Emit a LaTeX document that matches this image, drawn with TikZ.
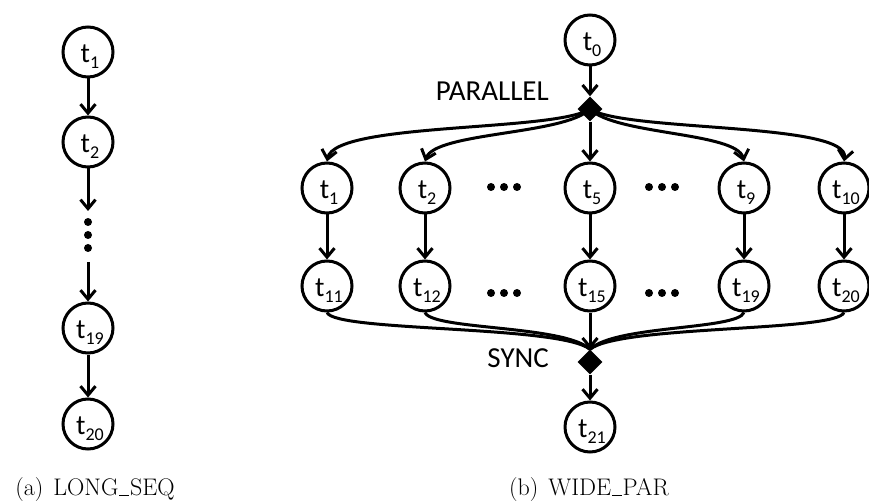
\documentclass[tikz,border=0pt]{standalone}
\usepackage{fontspec}
\newfontfamily\labfont{Carlito}
\usetikzlibrary{arrows.meta,shapes.geometric}
\newcommand\tk[1]{\kern4pt t\raisebox{-6pt}{\fontsize{18}{18}\selectfont #1}}
\newcommand\lowbar{\leavevmode\kern.04em\vbox{\hrule width .4em height 1.1pt}\kern.04em}
\begin{document}
\begin{tikzpicture}[x=1pt,y=-1pt,
  task/.style={circle,draw,line width=3pt,minimum size=50pt,inner sep=0pt,
    text height=23pt,text depth=2pt,font=\labfont\fontsize{28}{28}\selectfont},
  gate/.style={diamond,fill=black,minimum width=25pt,minimum height=25pt,inner sep=0pt},
  arr/.style={line width=3pt,-{Straight Barb[length=9pt,width=15pt]}},
  link/.style={line width=3pt},
  tag/.style={font=\labfont\fontsize{29}{29}\selectfont,inner sep=0pt},
  captext/.style={font=\fontsize{24}{24}\selectfont,inner sep=0pt}]
\useasboundingbox (0,0) rectangle (869,502);

% (a) LONG_SEQ
\node[task] (a1)  at (88,52)  {\tk{1}};
\node[task] (a2)  at (88,142) {\tk{2}};
\node[task] (a19) at (88,328) {\tk{19}};
\node[task] (a20) at (88,424) {\tk{20}};
\coordinate (ga) at (88,211);
\coordinate (gb) at (88,262);
\draw[arr] (a1) -- (a2);
\draw[arr] (a2) -- (ga);
\draw[arr] (gb) -- (a19);
\draw[arr] (a19) -- (a20);
\foreach \yy in {222,235,248} \fill (88,\yy) circle (4pt);
\node[captext] (capa) at (95,490) {(a)\hspace{10pt}LONG\lowbar SEQ};

% (b) WIDE_PAR
\node[task] (b0) at (590,40) {\tk{0}};
\node[gate] (par) at (590,109) {};
\node[tag,anchor=east] (partxt) at (549,91) {PARALLEL};

\node[task] (b1)  at (327,188) {\tk{1}};
\node[task] (b2)  at (425,188) {\tk{2}};
\node[task] (b5)  at (590,188) {\tk{5}};
\node[task] (b9)  at (744,188) {\tk{9}};
\node[task] (b10) at (844,188) {\tk{10}};

\node[task] (b11) at (327,286) {\tk{11}};
\node[task] (b12) at (425,286) {\tk{12}};
\node[task] (b15) at (590,286) {\tk{15}};
\node[task] (b19) at (744,286) {\tk{19}};
\node[task] (b20) at (844,286) {\tk{20}};

\foreach \xx in {491,504,517,649,662,675} {
  \fill (\xx,187) circle (4pt);
  \fill (\xx,293) circle (4pt);
}

\node[gate] (sync) at (590,362) {};
\node[tag,anchor=east] (synctxt) at (549,358) {SYNC};
\node[task] (b21) at (590,427) {\tk{21}};

\draw[arr] (b0) -- (par);
\draw[arr] (par.center) .. controls (555,132) and (335,122) .. (b1.north);
\draw[arr] (par.center) .. controls (565,135) and (435,132) .. (b2.north);
\draw[arr] (par) -- (b5);
\draw[arr] (par.center) .. controls (615,135) and (737,132) .. (b9.north);
\draw[arr] (par.center) .. controls (625,132) and (850,122) .. (b10.north);

\draw[arr] (b1) -- (b11);
\draw[arr] (b2) -- (b12);
\draw[arr] (b5) -- (b15);
\draw[arr] (b9) -- (b19);
\draw[arr] (b10) -- (b20);

\draw[link] (b11.south) .. controls (335,332) and (560,325) .. (sync.north);
\draw[link] (b12.south) .. controls (432,330) and (565,325) .. (sync.north);
\draw[link] (b19.south) .. controls (737,330) and (615,325) .. (sync.north);
\draw[link] (b20.south) .. controls (836,332) and (620,325) .. (sync.north);
\draw[arr] (b15) -- (sync);
\draw[arr] (sync) -- (b21);
\node[captext] (capb) at (589,490) {(b)\hspace{10pt}WIDE\lowbar PAR};
\end{tikzpicture}
\end{document}
